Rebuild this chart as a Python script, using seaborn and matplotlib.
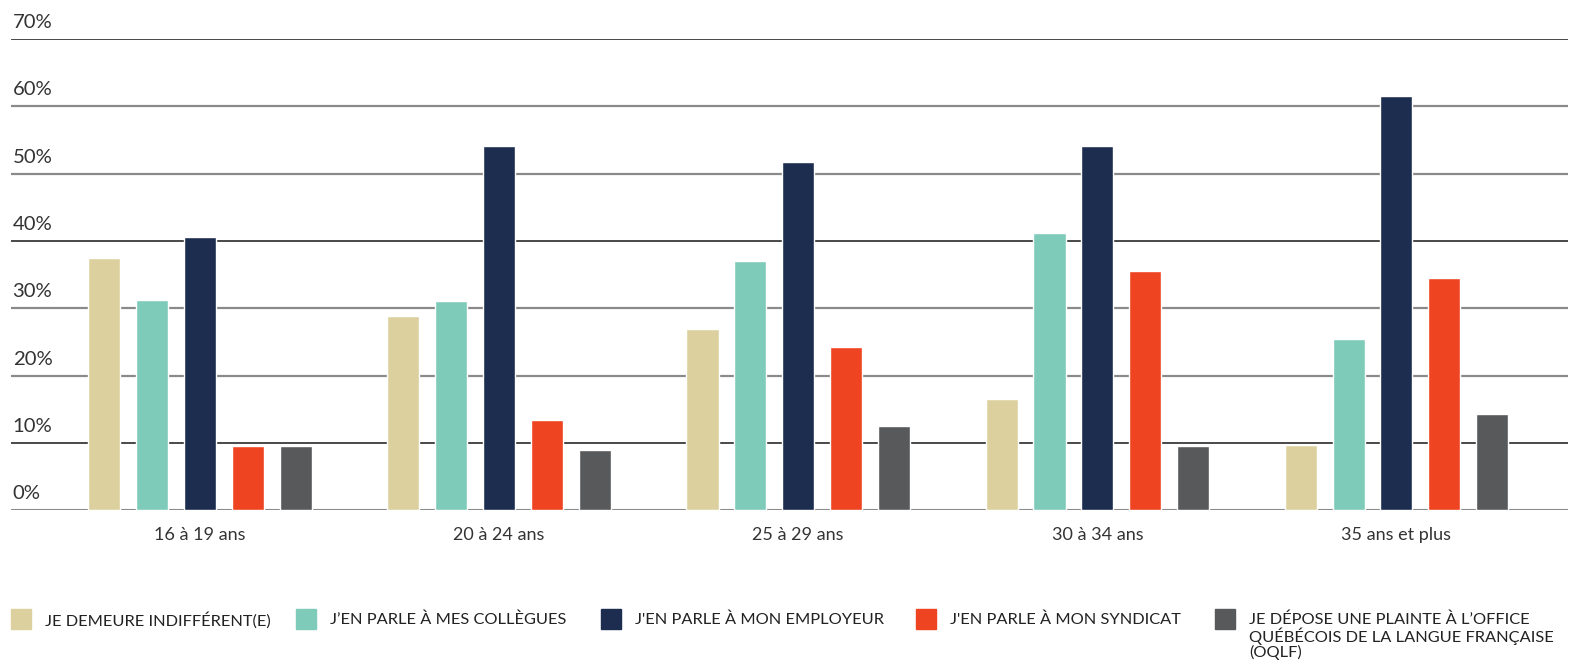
import pandas as pd
import matplotlib
matplotlib.use('Agg')
import matplotlib.pyplot as plt
import matplotlib.patches as mpatches
import matplotlib.transforms as mtransforms
import seaborn as sns

# ---------------------------- DATA ----------------------------
age_groups = ['16 à 19 ans', '20 à 24 ans', '25 à 29 ans', '30 à 34 ans', '35 ans et plus']
reactions = ['JE DEMEURE INDIFFÉRENT(E)',
             'J’EN PARLE À MES COLLÈGUES',
             'J\'EN PARLE À MON EMPLOYEUR',
             'J\'EN PARLE À MON SYNDICAT',
             'JE DÉPOSE UNE PLAINTE À L’OFFICE\nQUÉBÉCOIS DE LA LANGUE FRANÇAISE\n(OQLF)']

indifferent = [37.5, 28.8, 27.0, 16.6, 9.7]
colleagues = [31.2, 31.1, 37.0, 41.2, 25.4]
employer = [40.6, 54.1, 51.7, 54.1, 61.6]
union = [9.5, 13.4, 24.2, 35.5, 34.5]
oqlf = [9.5, 8.9, 12.5, 9.5, 14.3]

y_ticks = [0, 10, 20, 30, 40, 50, 60, 70]
colors = ['#DCD19E', '#7ECBBA', '#1D2D50', '#EE4422', '#58595B']

# Long format for seaborn
series = [indifferent, colleagues, employer, union, oqlf]
rows = []
for name, vals in zip(reactions, series):
    for age, v in zip(age_groups, vals):
        rows.append({'age': age, 'reaction': name, 'value': v})
df = pd.DataFrame(rows)

# ---------------------------- PLOT ----------------------------
sns.set_style('white')
plt.rcParams['font.family'] = ['Lato', 'DejaVu Sans']

W, H = 1570, 662
fig = plt.figure(figsize=(W / 100, H / 100), dpi=100)
ax = fig.add_axes([0.007, 0.229, 0.992, 0.712])

# gridlines (some dark, some grey like the original)
for t in y_ticks:
    if t == 0:
        ax.axhline(t, color='#8a8a8a', lw=2.2, zorder=0)
    elif t in (70, 40, 10):
        ax.axhline(t, color='#2a2a2a', lw=1.2, zorder=0)
    else:
        ax.axhline(t, color='#8a8a8a', lw=1.6, zorder=0)

sns.barplot(data=df, x='age', y='value', hue='reaction', hue_order=reactions,
            palette=colors, width=0.8, gap=0.33, saturation=1, ax=ax,
            legend=False, zorder=2)

ax.set_xlim(-0.632, 4.575)
ax.set_ylim(0, 70)
ax.set_yticks([])
ax.set_xlabel('')
ax.set_ylabel('')
ax.tick_params(axis='x', length=0, pad=12, labelsize=13, labelcolor='#333333')
sns.despine(ax=ax, left=True, bottom=True, top=True, right=True)

# y labels sit above each gridline at the left
trans = mtransforms.blended_transform_factory(ax.transAxes, ax.transData)
for t in y_ticks:
    ax.text(0.001, t + 1.2, f'{t}%', transform=trans, ha='left', va='bottom',
            fontsize=14.6, color='#333333', clip_on=False)

# legend at bottom, laid out by hand so the square sits on the first line
legend_x = [11, 296, 601, 916, 1215]
for x, c, label in zip(legend_x, colors, reactions):
    fig.patches.append(mpatches.Rectangle((x / W, 1 - 629 / H), 20 / W, 20 / H,
                                          color=c, transform=fig.transFigure))
    fig.text((x + 34) / W, 1 - 612 / H, label, ha='left', va='top',
             fontsize=11.8, color='#222222', linespacing=1.05)

fig.savefig('out.png', dpi=100)
